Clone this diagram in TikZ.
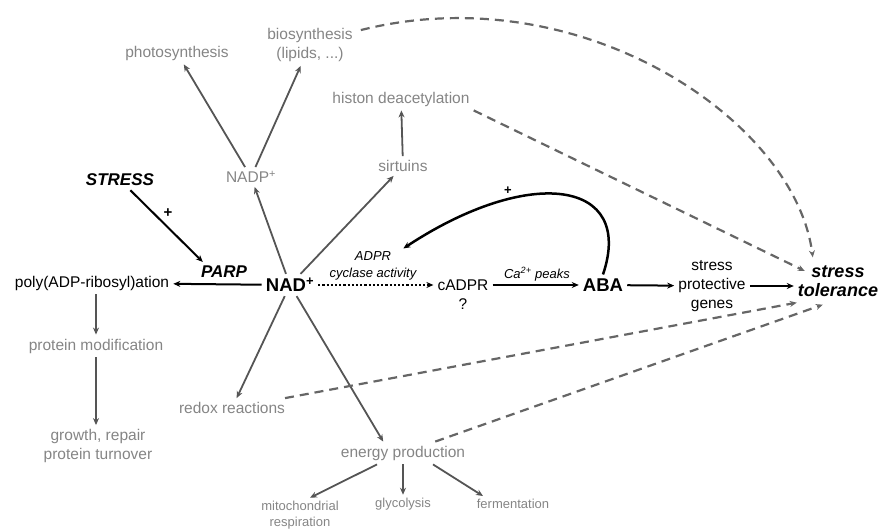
\documentclass[tikz,border=0pt]{standalone}
\usepackage{fontspec}
\setmainfont{Liberation Sans}
\usetikzlibrary{arrows.meta}
\definecolor{labelgray}{HTML}{858585}
\definecolor{arrowgray}{HTML}{555555}
\definecolor{dashgray}{HTML}{666666}

\begin{document}
\begin{tikzpicture}[x=1pt, y=-1pt, >={Stealth[length=7pt,width=6pt]},
    txt/.style = {align=center, inner sep=4pt, font=\fontsize{15.5}{19}\selectfont},
    gry/.style = {txt, text=labelgray},
    sml/.style = {align=center, inner sep=3pt, font=\fontsize{13}{16}\selectfont},
    big/.style = {txt, font=\fontsize{18.5}{20}\selectfont\bfseries},
    gline/.style = {->, draw=arrowgray, line width=1.8pt},
    bline/.style = {->, line width=2pt},
    dline/.style = {->, draw=dashgray, line width=2.2pt, dash pattern=on 9pt off 6pt}]
      \useasboundingbox (0,0) rectangle (878,529);
      \node[gry] (photo) at (177,53) {photosynthesis};
      \node[gry] (bio) at (310,45) {biosynthesis\\(lipids, ...)};
      \node[gry] (histon) at (401,99) {histon deacetylation};
      \node[gry] (sirt) at (403,166) {sirtuins};
      \node[gry] (nadp) at (251,177) {NADP\textsuperscript{+}};
      \node[txt, font=\fontsize{17}{20}\selectfont\bfseries\itshape] (stress) at (120,180) {STRESS};
      \node[txt, font=\fontsize{17}{20}\selectfont\bfseries\itshape] (parp) at (224,272) {PARP};
      \node[txt] (poly) at (92,283) {poly(ADP-ribosyl)ation};
      \node[big] (nad) at (290,285) {NAD\textsuperscript{+}};
      \node[sml, font=\fontsize{13}{17}\selectfont\itshape] (adpr) at (373,266) {ADPR\\cyclase activity};
      \node[txt] (cadpr) at (463,285) {cADPR};
      \node[txt] (qm) at (463,304) {?};
      \node[sml, font=\fontsize{13}{16}\selectfont\itshape] (ca) at (537,274) {Ca\textsuperscript{2+} peaks};
      \node[big] (aba) at (603,285) {ABA};
      \node[txt] (genes) at (712,286) {stress\\protective\\genes};
      \node[txt, font=\fontsize{18}{19}\selectfont\bfseries\itshape] (tol) at (838,281) {stress\\tolerance};
      \node[gry] (prot) at (96,346) {protein modification};
      \node[gry] (growth) at (98,446) {growth, repair\\protein turnover};
      \node[gry] (redox) at (232,408) {redox reactions};
      \node[gry] (energy) at (403,453) {energy production};
      \node[sml, text=labelgray] (mito) at (300,515) {mitochondrial\\respiration};
      \node[sml, text=labelgray] (glyc) at (403,504) {glycolysis};
      \node[sml, text=labelgray] (ferm) at (513,504) {fermentation};
      \node[txt, font=\fontsize{15}{18}\selectfont\bfseries] (plusa) at (168,213) {+};
      \node[sml, font=\fontsize{13}{16}\selectfont\bfseries] (plusb) at (508,191) {+};
      \draw[bline] (nad) -- (poly);
      \draw[bline] (stress) -- ([xshift=6pt]parp.north west);
      \draw[gline] (nad) -- (nadp);
      \draw[gline] (nadp) -- (photo);
      \draw[gline] (nadp) -- (bio);
      \draw[gline] (nad) -- (sirt);
      \draw[gline] (sirt) -- (histon);
      \draw[gline] (nad) -- (redox);
      \draw[gline] (nad) -- (energy.150);
      \draw[gline] (prot |- poly.south) -- (prot);
      \draw[gline] (prot) -- (prot |- growth.north);
      \draw[gline] ([xshift=-26pt]energy.south) -- ([xshift=10pt]mito.north);
      \draw[gline] (energy) -- (glyc);
      \draw[gline] ([xshift=30pt]energy.south) -- ([xshift=-30pt]ferm.north);
      \draw[->, line width=2pt, dash pattern=on 2.2pt off 2pt] (nad) -- (cadpr);
      \draw[bline] (cadpr) -- (aba);
      \draw[bline] (aba) -- (genes);
      \draw[bline] (genes) -- (genes -| tol.west);
      \draw[->, line width=2.5pt] (aba.north) .. controls (635,180) and (530,165) .. (adpr.30);
      \draw[dline] ([shift={(4pt,-6pt)}]bio.north east) .. controls (580,-25) and (795,120) .. ([shift={(19pt,4pt)}]tol.north west);
      \draw[dline] (histon.south east) -- ([shift={(11pt,10pt)}]tol.west);
      \draw[dline] (redox) -- ([shift={(3pt,-2pt)}]tol.south west);
      \draw[dline] (energy) -- ([shift={(29pt,-4pt)}]tol.south west);
    \end{tikzpicture}
\end{document}
